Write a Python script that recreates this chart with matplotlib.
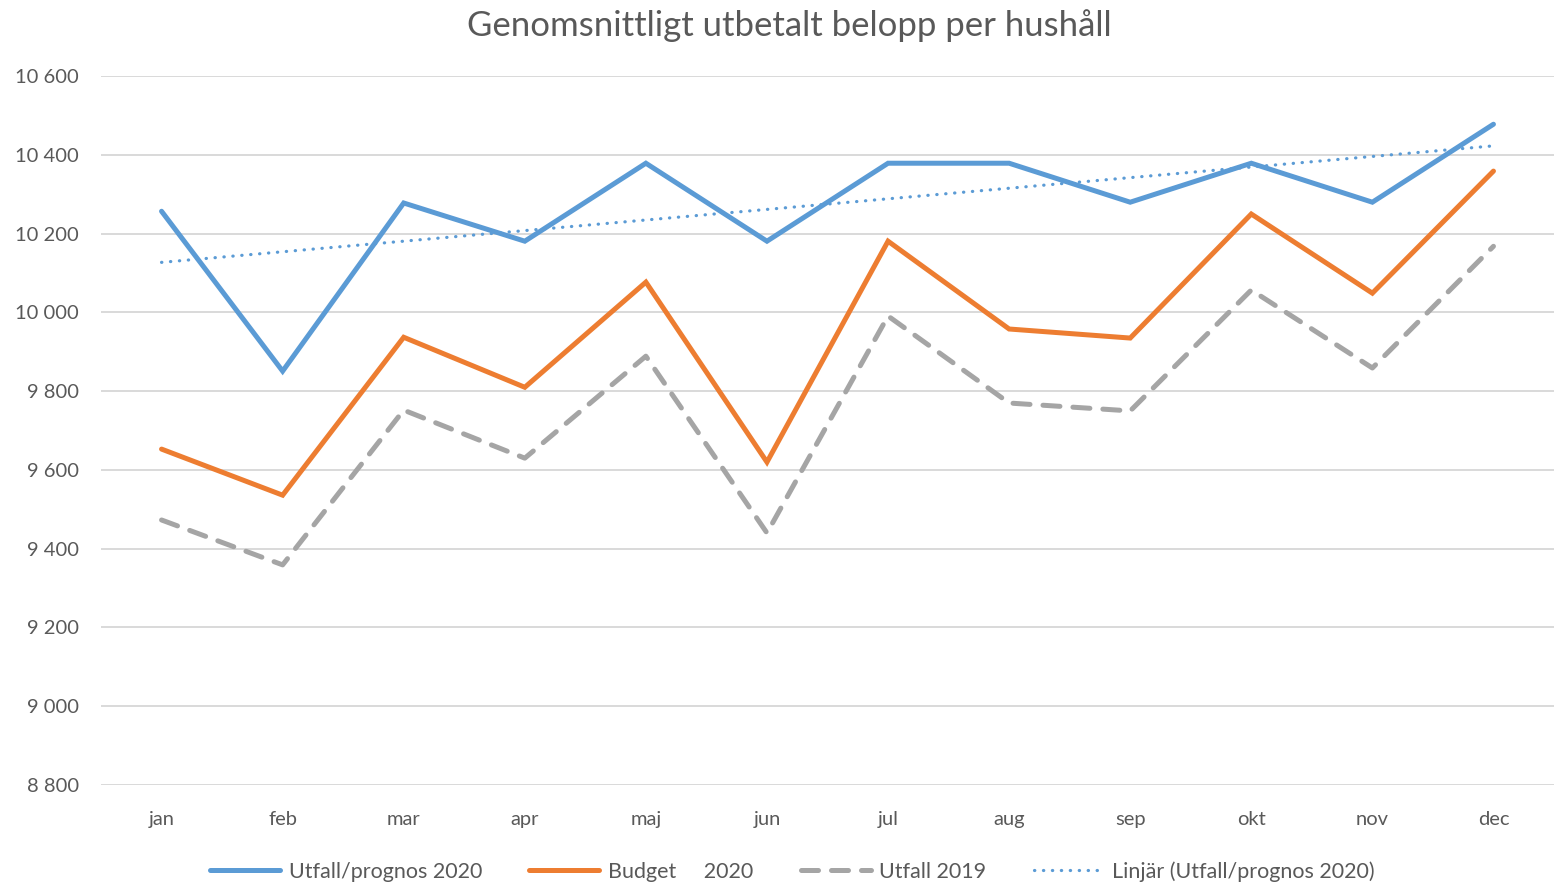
import numpy as np
import matplotlib.pyplot as plt

# Data
months = ['jan', 'feb', 'mar', 'apr', 'maj', 'jun', 'jul', 'aug', 'sep', 'okt', 'nov', 'dec']
utfall_2020 = [10257, 9851, 10278, 10181, 10379, 10181, 10379, 10379, 10280, 10379, 10280, 10478]
budget_2020 = [9653, 9536, 9937, 9810, 10077, 9620, 10181, 9958, 9935, 10250, 10049, 10359]
utfall_2019 = [9473, 9359, 9752, 9630, 9889, 9440, 9991, 9770, 9750, 10057, 9859, 10168]
y_ticks = [8800, 9000, 9200, 9400, 9600, 9800, 10000, 10200, 10400, 10600]

blue = '#5B9BD5'
orange = '#ED7D31'
gray = '#A5A5A5'
text_col = '#595959'

plt.rcParams['font.family'] = ['Lato', 'DejaVu Sans']

x = np.arange(len(months))

# linear trend of Utfall/prognos 2020
k, m = np.polyfit(x, utfall_2020, 1)
trend = k * x + m

fig = plt.figure(figsize=(15.54, 8.86), dpi=100)
ax = fig.add_axes([0.065, 0.114, 0.935, 0.8])

ax.plot(x, utfall_2020, color=blue, lw=3.6, solid_capstyle='round', solid_joinstyle='miter',
        label='Utfall/prognos 2020', zorder=4)
ax.plot(x, budget_2020, color=orange, lw=3.6, solid_capstyle='round', solid_joinstyle='miter',
        label='Budget     2020', zorder=3)
ax.plot(x, utfall_2019, color=gray, lw=3.6, dashes=(3.4, 2.6), dash_capstyle='round',
        label='Utfall 2019', zorder=2)
ax.plot(x, trend, color=blue, lw=2.3, dashes=(0.1, 2.7), dash_capstyle='round',
        label='Linjär (Utfall/prognos 2020)', zorder=5)

ax.set_xlim(-0.5, 11.5)
ax.set_ylim(8800, 10600)
ax.set_xticks(x)
ax.set_xticklabels(months)
ax.set_yticks(y_ticks)
ax.set_yticklabels([f'{v:,}'.replace(',', ' ') for v in y_ticks])
ax.tick_params(axis='both', length=0, labelsize=14.5, colors=text_col)
ax.tick_params(axis='x', pad=19)
ax.tick_params(axis='y', pad=16)
ax.grid(axis='y', color='#D9D9D9', lw=1.4)
ax.set_axisbelow(True)
for s in ax.spines.values():
    s.set_visible(False)

fig.suptitle('Genomsnittligt utbetalt belopp per hushåll', x=0.508, y=0.99,
             fontsize=25, color=text_col)

fig.legend(loc='lower center', bbox_to_anchor=(0.51, -0.017), ncol=4, frameon=False,
           fontsize=15.5, handlelength=3.25, handletextpad=0.4, columnspacing=2.2,
           labelcolor=text_col)

fig.savefig('out.png', dpi=100)
